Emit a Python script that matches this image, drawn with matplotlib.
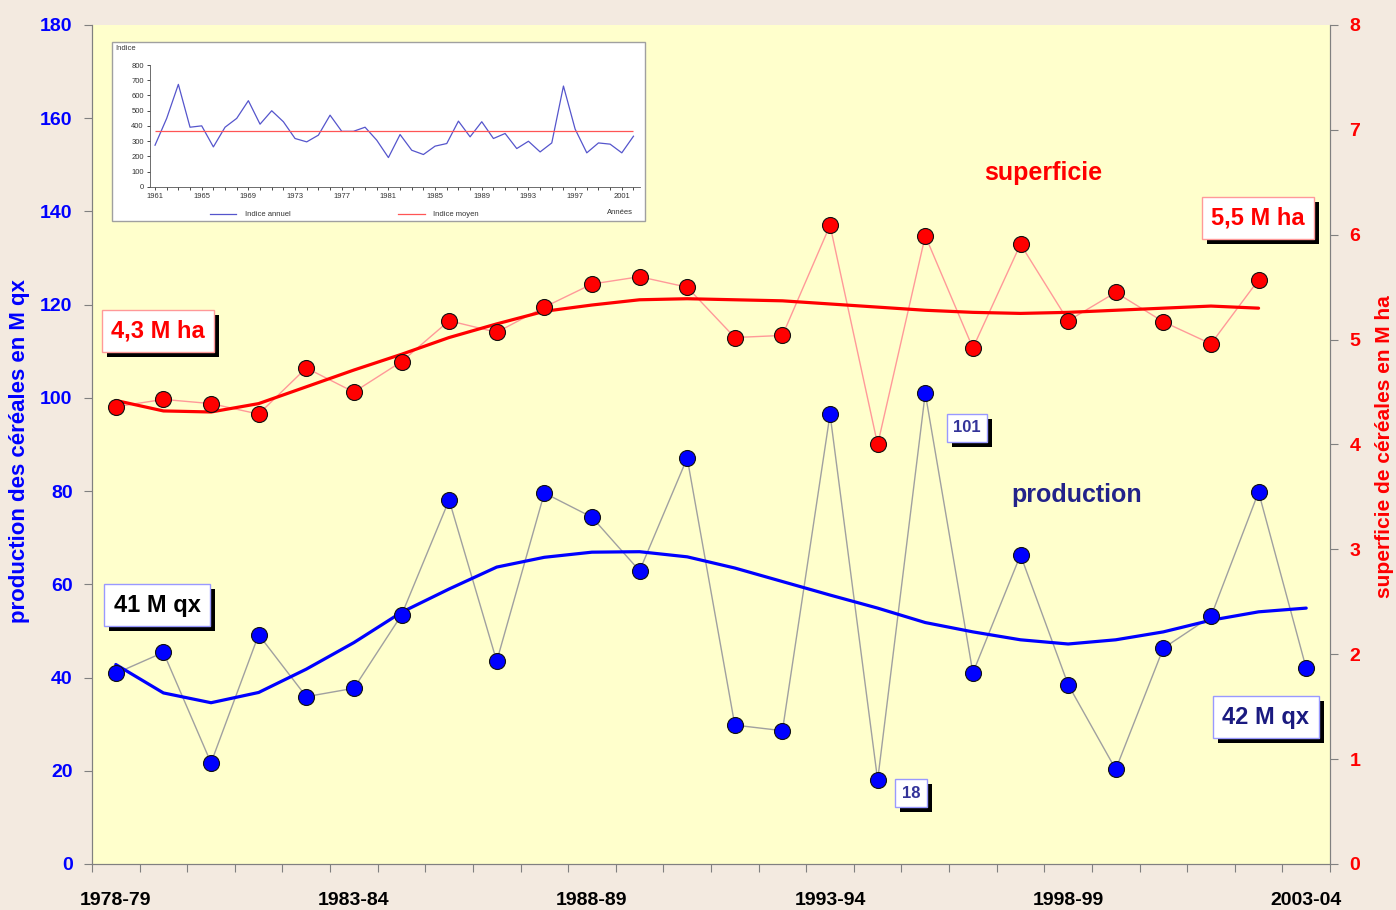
import matplotlib
matplotlib.use('Agg')
import numpy as np
import matplotlib.pyplot as plt
from matplotlib import patheffects
from matplotlib.patches import Rectangle
from matplotlib.lines import Line2D

plt.rcParams['font.family'] = ['Liberation Sans', 'DejaVu Sans']

# campagnes agricoles
seasons = ['1978-79', '1979-80', '1980-81', '1981-82', '1982-83', '1983-84',
           '1984-85', '1985-86', '1986-87', '1987-88', '1988-89', '1989-90',
           '1990-91', '1991-92', '1992-93', '1993-94', '1994-95', '1995-96',
           '1996-97', '1997-98', '1998-99', '1999-00', '2000-01', '2001-02',
           '2002-03', '2003-04']

# production (M qx), left axis
production = [40.9, 45.4, 21.7, 49.2, 35.9, 37.7, 53.4, 78.1, 43.5, 79.6,
              74.4, 62.9, 87.1, 29.8, 28.6, 96.5, 18.0, 101.0, 41.0, 66.3,
              38.5, 20.3, 46.3, 53.1, 79.8, 42.0]
prod_trend = [42.8, 36.7, 34.6, 36.8, 41.8, 47.5, 54.0, 59.0, 63.7, 65.8,
              66.9, 67.0, 65.9, 63.5, 60.6, 57.7, 54.9, 51.8, 49.8, 48.1,
              47.2, 48.1, 49.8, 52.3, 54.1, 54.9]

# superficie (M ha), right axis - no value for 2003-04
superficie = [4.36, 4.43, 4.39, 4.29, 4.73, 4.50, 4.79, 5.18, 5.07, 5.31,
              5.53, 5.60, 5.50, 5.02, 5.04, 6.09, 4.00, 5.99, 4.92, 5.91,
              5.18, 5.45, 5.17, 4.96, 5.57]
sup_trend = [4.42, 4.32, 4.31, 4.39, 4.55, 4.71, 4.86, 5.02, 5.15, 5.27,
             5.33, 5.38, 5.39, 5.38, 5.37, 5.34, 5.31, 5.28, 5.26, 5.25,
             5.26, 5.28, 5.30, 5.32, 5.30]

# inset: indice annuel 1961-2002
inset_years = list(range(1961, 2003))
indice = [274, 450, 673, 392, 401, 263, 392, 450, 566, 412, 500, 428, 318,
          296, 340, 471, 365, 365, 392, 307, 193, 344, 241, 213, 268, 285,
          432, 329, 428, 318, 351, 252, 300, 230, 289, 662, 380, 224, 289,
          281, 224, 333]
indice_moyen = 365

W, H = 1396, 910
fig = plt.figure(figsize=(W / 100, H / 100), dpi=100, facecolor='#F3EAE0')
ax = fig.add_axes([92 / W, 1 - 864 / H, (1330 - 92) / W, (864 - 25) / H])
ax.set_facecolor('#FFFFCC')
ax2 = ax.twinx()

x = np.arange(len(seasons))
xs = x[:len(superficie)]

ax.plot(x, production, color='#A0A0A0', lw=1, zorder=2)
ax.plot(x, prod_trend, color='#0000FF', lw=2.3, zorder=3,
        solid_capstyle='round', solid_joinstyle='round')
ax.plot(x, production, 'o', ms=11.5, mfc='#0000FF', mec='#111111', mew=0.8, zorder=4)

ax2.plot(xs, superficie, color='#FF9999', lw=1, zorder=2)
ax2.plot(xs, sup_trend, color='#FF0000', lw=2.3, zorder=3,
         solid_capstyle='round', solid_joinstyle='round')
ax2.plot(xs, superficie, 'o', ms=11.5, mfc='#FF0000', mec='#111111', mew=0.8, zorder=4)

ax.set_xlim(-0.5, len(seasons) - 0.5)
ax.set_ylim(0, 180)
ax2.set_ylim(0, 8)
ax.set_yticks(range(0, 181, 20))
ax2.set_yticks(range(0, 9))

ax.set_xticks(np.arange(-0.5, len(seasons), 1))
ax.set_xticklabels([])
ax.set_xticks(x[::5], minor=True)
ax.set_xticklabels(seasons[::5], minor=True)
ax.tick_params(axis='x', which='major', direction='out', length=6, color='#808080')
ax.tick_params(axis='x', which='minor', length=0, pad=20, labelsize=14)
for lab in ax.get_xticklabels(minor=True):
    lab.set_fontweight('bold')

ax.tick_params(axis='y', direction='out', length=6, color='#808080',
               labelcolor='#0000FF', labelsize=14, pad=8)
ax2.tick_params(axis='y', direction='out', length=6, color='#808080',
                labelcolor='#FF0000', labelsize=14, pad=8)
for lab in ax.get_yticklabels() + ax2.get_yticklabels():
    lab.set_fontweight('bold')

for a in (ax, ax2):
    a.spines['top'].set_visible(False)
    for s in ('left', 'right', 'bottom'):
        a.spines[s].set_color('#808080')

fig.text(20 / W, 1 - 451 / H, 'production des céréales en M qx', color='#0000FF',
         fontsize=16, fontweight='bold', rotation=90, ha='center', va='center')
fig.text(1385 / W, 1 - 447 / H, 'superficie de céréales en M ha', color='#FF0000',
         fontsize=15, fontweight='bold', rotation=90, ha='center', va='center')

ax2.text(0.768, 0.8236, 'superficie', transform=ax2.transAxes, color='#FF0000',
         fontsize=18, fontweight='bold', ha='center', va='center')
ax2.text(0.795, 0.4398, 'production', transform=ax2.transAxes, color='#22228A',
         fontsize=18, fontweight='bold', ha='center', va='center')


def boxed(xf, yf, s, color, edge, size):
    t = ax2.text(xf, yf, s, transform=ax2.transAxes, ha='center', va='center',
                 fontsize=size, fontweight='bold', color=color, zorder=10,
                 bbox=dict(boxstyle='square,pad=0.4', fc='white', ec=edge, lw=1))
    t.get_bbox_patch().set_path_effects([
        patheffects.SimplePatchShadow(offset=(3.6, -3.6), shadow_rgbFace='black', alpha=1.0),
        patheffects.Normal()])


boxed(0.0533, 0.635, '4,3 M ha', '#FF0000', '#FF9999', 17)
boxed(0.0525, 0.3087, '41 M qx', '#000000', '#9999FF', 17)
boxed(0.9418, 0.770, '5,5 M ha', '#FF0000', '#FF9999', 17)
boxed(0.9483, 0.1752, '42 M qx', '#1A1A80', '#9999FF', 17)
boxed(0.7068, 0.5197, '101', '#333399', '#9999FF', 12)
boxed(0.6616, 0.0846, '18', '#333399', '#9999FF', 12)

# inset chart
frame = Rectangle((112 / W, 1 - 221 / H), (645 - 112) / W, (221 - 42) / H,
                  transform=fig.transFigure, fc='white', ec='#A0A0A0', lw=1, zorder=4)
fig.add_artist(frame)
ins = fig.add_axes([150 / W, 1 - 187 / H, 490 / W, 122 / H])
ins.set_zorder(5)
ins.set_facecolor('white')
ins.plot(inset_years, indice, color='#5555CC', lw=0.9)
ins.hlines(indice_moyen, inset_years[0], inset_years[-1], color='#FF5555', lw=0.9)
ins.set_ylim(0, 800)
ins.set_xlim(1960.57, 2002.56)
ins.set_yticks(range(0, 801, 100))
ins.set_xticks(inset_years[::4])
ins.set_xticks(inset_years, minor=True)
ins.tick_params(which='both', direction='out', length=2.5, width=0.5,
                labelsize=5.5, labelcolor='#333333', pad=2)
for s in ('top', 'right'):
    ins.spines[s].set_visible(False)
for s in ('left', 'bottom'):
    ins.spines[s].set_color('#555555')
    ins.spines[s].set_linewidth(0.6)

fig.text(115 / W, 1 - 48 / H, 'Indice', fontsize=5.5, color='#333333', va='center', zorder=6)
fig.add_artist(Line2D([210 / W, 236 / W], [1 - 214 / H] * 2, transform=fig.transFigure,
                      color='#5555CC', lw=0.9, zorder=6))
fig.text(245 / W, 1 - 214 / H, 'Indice annuel', fontsize=5.5, color='#333333',
         va='center', zorder=6)
fig.add_artist(Line2D([398 / W, 425 / W], [1 - 214 / H] * 2, transform=fig.transFigure,
                      color='#FF5555', lw=0.9, zorder=6))
fig.text(433 / W, 1 - 214 / H, 'Indice moyen', fontsize=5.5, color='#333333',
         va='center', zorder=6)
fig.text(633 / W, 1 - 212 / H, 'Années', fontsize=5.5, color='#333333',
         va='center', ha='right', zorder=6)

fig.savefig('out.png', dpi=100, facecolor=fig.get_facecolor())
